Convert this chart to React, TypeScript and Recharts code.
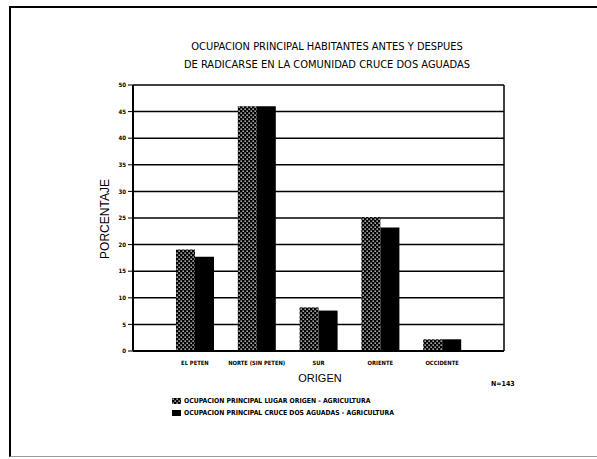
import React from 'react';
import { BarChart, Bar, XAxis, YAxis, CartesianGrid } from 'recharts';

const categories = ['EL PETEN', 'NORTE (SIN PETEN)', 'SUR', 'ORIENTE', 'OCCIDENTE'];
const origenValues = [19.1, 46.0, 8.2, 25.2, 2.2];
const cruceValues = [17.7, 46.0, 7.6, 23.2, 2.2];
const yTicks = [0, 5, 10, 15, 20, 25, 30, 35, 40, 45, 50];

const seriesNames = [
  'OCUPACION PRINCIPAL LUGAR ORIGEN - AGRICULTURA',
  'OCUPACION PRINCIPAL CRUCE DOS AGUADAS - AGRICULTURA',
];

const data = categories.map((name, i) => ({
  name,
  origen: origenValues[i],
  cruce: cruceValues[i],
}));

const smallFont = '"DejaVu Sans Condensed", "DejaVu Sans", sans-serif';

// x tick label on one line, no wrapping
const CategoryTick = (props: any) => {
  const { x, y, payload } = props;
  return (
    <text x={x} y={y + 6} textAnchor="middle" fill="#000" fontSize={5.8} fontWeight="bold" fontFamily={smallFont}>
      {payload.value}
    </text>
  );
};

const App: React.FC = () => {
  return (
    <div style={{ position: 'absolute', left: 0, top: 0, width: 597, height: 459, background: '#fff', overflow: 'hidden' }}>
      <div
        style={{
          position: 'absolute', left: 9, top: 6, width: 588, height: 448,
          borderTop: '2px solid #000', borderLeft: '2px solid #000', borderBottom: '1px solid #999',
        }}
      />
      <div
        style={{
          position: 'absolute', left: 0, width: 654, top: 38, textAlign: 'center',
          fontFamily: smallFont, fontSize: 11, lineHeight: '18px', color: '#000',
        }}
      >
        <div>OCUPACION PRINCIPAL HABITANTES ANTES Y DESPUES</div>
        <div>DE RADICARSE EN LA COMUNIDAD CRUCE DOS AGUADAS</div>
      </div>
      <div
        style={{
          position: 'absolute', left: 105, top: 219, transform: 'translate(-50%, -50%) rotate(-90deg)',
          fontFamily: '"Liberation Sans", Arial, sans-serif', fontSize: 12, whiteSpace: 'nowrap',
        }}
      >
        PORCENTAJE
      </div>
      <div
        style={{
          position: 'absolute', left: 320, top: 378, transform: 'translate(-50%, -50%)',
          fontFamily: '"Liberation Sans", Arial, sans-serif', fontSize: 11,
        }}
      >
        ORIGEN
      </div>
      <div
        style={{
          position: 'absolute', left: 491, top: 380, fontFamily: smallFont, fontWeight: 'bold', fontSize: 7,
        }}
      >
        N=143
      </div>
      <BarChart
        width={597}
        height={459}
        data={data}
        margin={{ top: 85, right: 92, bottom: 88, left: 103 }}
        barGap={0}
        barSize={19}
        style={{ position: 'absolute', left: 0, top: 0 }}
      >
        <defs>
          <pattern id="dots" width={4} height={4} patternUnits="userSpaceOnUse">
            <rect width={4} height={4} fill="#000" />
            <rect x={0.5} y={0.5} width={1.3} height={1.3} fill="#fff" />
            <rect x={2.5} y={2.5} width={1.3} height={1.3} fill="#fff" />
          </pattern>
        </defs>
        <CartesianGrid yAxisId="left" vertical={false} stroke="#000" strokeWidth={1.5} />
        <XAxis
          dataKey="name"
          height={20}
          padding={{ left: 31, right: 31 }}
          axisLine={{ stroke: '#000', strokeWidth: 2 }}
          tickLine={false}
          interval={0}
          tick={<CategoryTick />}
        />
        <YAxis
          yAxisId="left"
          width={30}
          domain={[0, 50]}
          ticks={yTicks}
          interval={0}
          axisLine={{ stroke: '#000', strokeWidth: 2 }}
          tickLine={{ stroke: '#000' }}
          tickSize={5}
          tickMargin={2}
          tick={{ fill: '#000', fontSize: 6, fontWeight: 'bold', fontFamily: smallFont }}
        />
        <YAxis
          yAxisId="right"
          orientation="right"
          width={1}
          domain={[0, 50]}
          tick={false}
          tickLine={false}
          axisLine={{ stroke: '#000', strokeWidth: 1.5 }}
        />
        <Bar yAxisId="left" dataKey="origen" name={seriesNames[0]} fill="url(#dots)" isAnimationActive={false} />
        <Bar yAxisId="left" dataKey="cruce" name={seriesNames[1]} fill="#000" isAnimationActive={false} />
      </BarChart>
      <div
        style={{
          position: 'absolute', left: 172, top: 395, fontFamily: smallFont, fontWeight: 'bold',
          fontSize: 6.8, lineHeight: '12px', color: '#000',
        }}
      >
        {seriesNames.map((n, i) => (
          <div key={n} style={{ display: 'flex', alignItems: 'center', whiteSpace: 'nowrap' }}>
            <svg width={9} height={6} style={{ marginRight: 3 }}>
              <rect width={9} height={6} fill={i === 0 ? 'url(#dots)' : '#000'} />
            </svg>
            <span>{n}</span>
          </div>
        ))}
      </div>
    </div>
  );
};

export default App;
